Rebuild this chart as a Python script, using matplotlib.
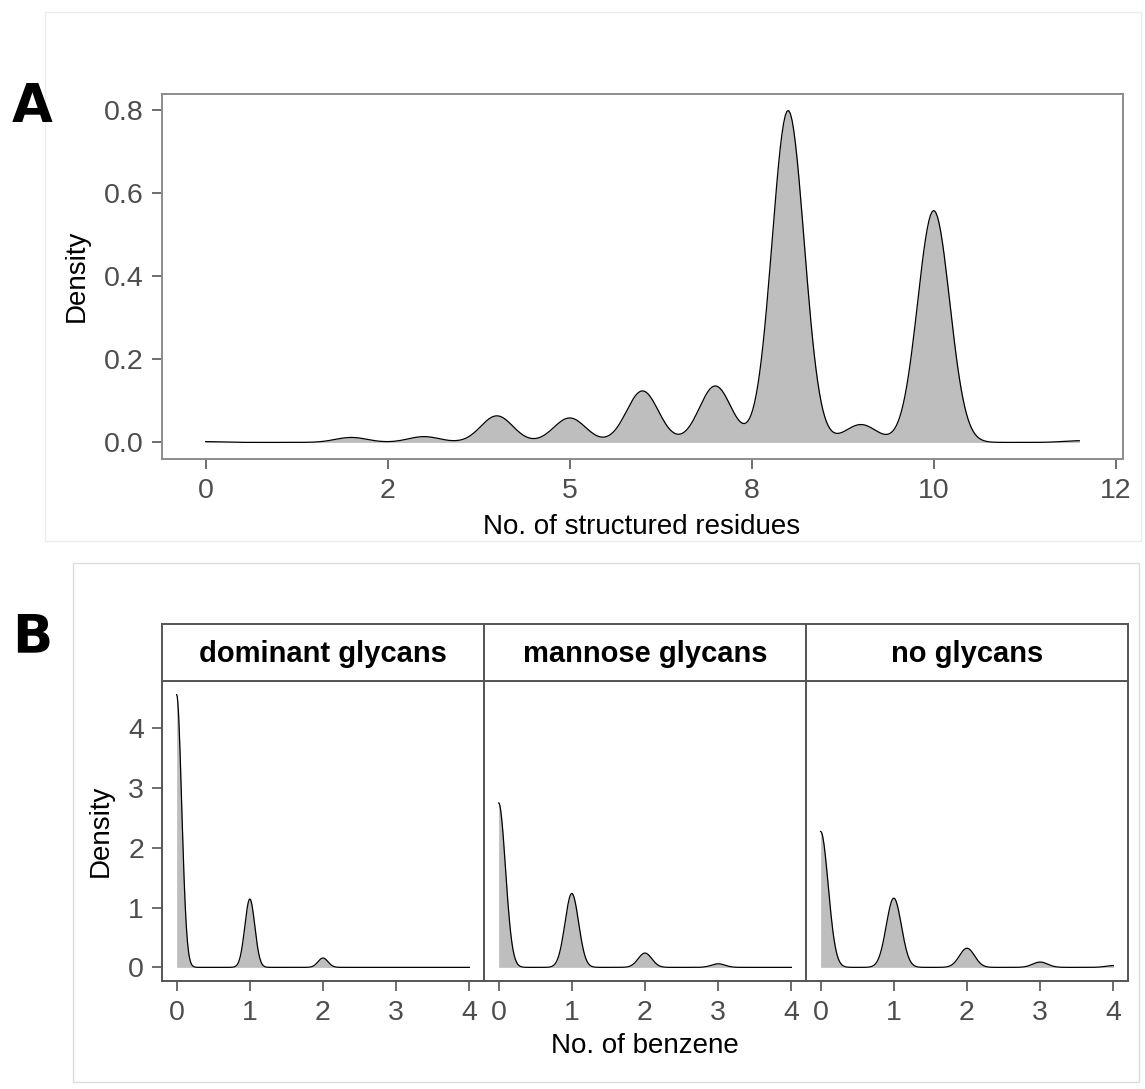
import numpy as np
import matplotlib.pyplot as plt
from matplotlib.patches import Rectangle

# share of observations at each count (percent) and kernel bandwidths
structured_counts = np.arange(0, 13)
structured_freq = [0.10, 0.0, 0.66, 0.77, 3.53, 3.25, 6.84, 7.50, 44.1, 2.37, 30.8, 0.0, 0.22]
structured_bw = 0.22

benzene_counts = np.arange(0, 5)
glycan_groups = ["dominant glycans", "mannose glycans", "no glycans"]
benzene_freq = {
    "dominant glycans": [78.2, 19.6, 2.68, 0.0, 0.0],
    "mannose glycans": [64.3, 28.9, 5.6, 1.4, 0.0],
    "no glycans": [58.9, 30.0, 8.3, 2.3, 0.77],
}
benzene_bw = {"dominant glycans": 0.068, "mannose glycans": 0.093, "no glycans": 0.103}

W, H = 1145, 1089
GREY_TXT = "#4d4d4d"
FILL = "#bebebe"


def kde(centers, freq, bw, lo, hi, n=512):
    x = np.linspace(lo, hi, n)
    w = np.asarray(freq, float)
    w = w / w.sum()
    z = (x[:, None] - np.asarray(centers)[None, :]) / bw
    y = (w[None, :] * np.exp(-0.5 * z ** 2)).sum(axis=1) / (bw * np.sqrt(2 * np.pi))
    return x, y


def box(x0, y0, x1, y1):
    # pixel box (top-left origin) -> figure fraction rect
    return [x0 / W, 1 - y1 / H, (x1 - x0) / W, (y1 - y0) / H]


def style_axes(ax, edge, lw):
    for s in ax.spines.values():
        s.set_color(edge)
        s.set_linewidth(lw)
    ax.tick_params(length=7, width=1.2, color="#555555", labelsize=20.5,
                   labelcolor=GREY_TXT, pad=6)


plt.rcParams["font.family"] = ["Liberation Sans", "DejaVu Sans"]
fig = plt.figure(figsize=(W / 100, H / 100), dpi=100)

# faint frames around the two blocks
fig.add_artist(Rectangle((45 / W, 1 - 541 / H), (1141 - 45) / W, (541 - 12) / H,
                         transform=fig.transFigure, fill=False, ec="#ececec", lw=1))
fig.add_artist(Rectangle((73 / W, 1 - 1082 / H), (1139 - 73) / W, (1082 - 563) / H,
                         transform=fig.transFigure, fill=False, ec="#dcdcdc", lw=1))

# ---- panel A ----
axA = fig.add_axes(box(162, 94, 1123, 459))
xa, ya = kde(structured_counts, structured_freq, structured_bw, 0, 12)
axA.fill_between(xa, 0, ya, color=FILL, lw=0)
axA.plot(xa, ya, color="black", lw=0.9)
axA.set_xlim(-0.6, 12.6)
m = ya.max()
axA.set_ylim(-0.05 * m, 1.05 * m)
axA.set_xticks([0, 2.5, 5, 7.5, 10, 12.5], ["0", "2", "5", "8", "10", "12"])
axA.set_yticks([0, 0.2, 0.4, 0.6, 0.8], ["0.0", "0.2", "0.4", "0.6", "0.8"])
style_axes(axA, "#8c8c8c", 1.4)
axA.tick_params(axis="x", pad=7)
fig.text(77 / W, 1 - 276 / H, "Density", rotation=90, ha="center", va="center", fontsize=20)
fig.text(642 / W, 1 - 527 / H, "No. of structured residues", ha="center", va="center", fontsize=20)
fig.text(12 / W, 1 - 107 / H, "A", ha="left", va="center", fontsize=38,
         fontweight="heavy", family="DejaVu Sans")

# ---- panel B ----
curves = {g: kde(benzene_counts, benzene_freq[g], benzene_bw[g], 0, 4) for g in glycan_groups}
mb = max(c[1].max() for c in curves.values())
for i, g in enumerate(glycan_groups):
    x0 = 162 + i * 322
    ax = fig.add_axes(box(x0, 681, x0 + 322, 981))
    xb, yb = curves[g]
    ax.fill_between(xb, 0, yb, color=FILL, lw=0)
    ax.plot(xb, yb, color="black", lw=0.9)
    ax.set_xlim(-0.2, 4.2)
    ax.set_ylim(-0.05 * mb, 1.05 * mb)
    ax.set_xticks([0, 1, 2, 3, 4])
    ax.set_yticks([0, 1, 2, 3, 4])
    style_axes(ax, "#555555", 1.4)
    ax.tick_params(axis="x", pad=7)
    if i > 0:
        ax.tick_params(axis="y", left=False, labelleft=False)
    strip = fig.add_axes(box(x0, 624, x0 + 322, 681))
    strip.set_xticks([])
    strip.set_yticks([])
    for s in strip.spines.values():
        s.set_color("#555555")
        s.set_linewidth(1.4)
    strip.text(0.5, 0.48, g, transform=strip.transAxes, ha="center", va="center",
               fontsize=21, fontweight="bold")

fig.text(101 / W, 1 - 831 / H, "Density", rotation=90, ha="center", va="center", fontsize=20)
fig.text(645 / W, 1 - 1046 / H, "No. of benzene", ha="center", va="center", fontsize=20)
fig.text(12 / W, 1 - 637 / H, "B", ha="left", va="center", fontsize=38,
         fontweight="heavy", family="DejaVu Sans")

fig.savefig("out.png", dpi=100, facecolor="white")
